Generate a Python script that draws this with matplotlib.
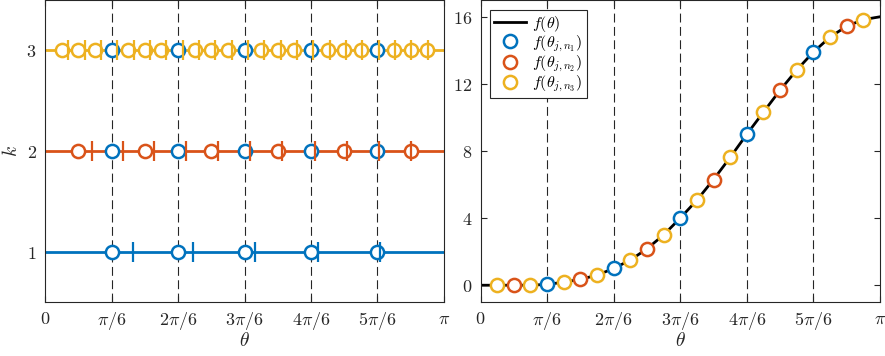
import numpy as np
import matplotlib
matplotlib.use('Agg')
import matplotlib.pyplot as plt

plt.rcParams['mathtext.fontset'] = 'cm'
plt.rcParams['font.family'] = 'serif'
plt.rcParams['font.serif'] = ['DejaVu Serif']

# colours (matlab default order)
c1, c2, c3 = '#0072BD', '#D95319', '#EDB120'
axcol = '#262626'

# nodes, in units of pi/6
th_n1 = [1, 2, 3, 4, 5]
th_n2 = [0.5, 1.5, 2.5, 3.5, 4.5, 5.5]
th_n3 = [0.25, 0.75, 1.25, 1.75, 2.25, 2.75, 3.25, 3.75, 4.25, 4.75, 5.25, 5.75]

# f at the nodes
f_n1 = [0.05, 1.0, 4.0, 9.0, 13.9]
f_n2 = [0.0, 0.35, 2.17, 6.3, 11.63, 15.44]
f_n3 = [0.0, 0.0, 0.18, 0.6, 1.5, 3.0, 5.07, 7.62, 10.32, 12.83, 14.79, 15.83]

# f(theta) curve
th_line = [0, 0.25, 0.5, 0.75, 1, 1.25, 1.5, 1.75, 2, 2.25, 2.5, 2.75, 3,
           3.25, 3.5, 3.75, 4, 4.25, 4.5, 4.75, 5, 5.25, 5.5, 5.75, 6]
f_line = [0, 0, 0, 0, 0.05, 0.18, 0.35, 0.6, 1.0, 1.5, 2.17, 3.0, 4.0,
          5.07, 6.3, 7.62, 9.0, 10.32, 11.63, 12.83, 13.9, 14.79, 15.44, 15.83, 16.0]

# interval markers ("|") per level k
bars_k1 = [1.32, 2.23, 3.16, 4.10, 5.04]
bars_k2 = [0.707, 1.17, 1.64, 2.12, 2.60, 3.09, 3.57, 4.06, 4.54, 5.03, 5.51]
bars_k3 = [0.350, 0.596, 0.841, 1.087, 1.333, 1.578, 1.824, 2.070, 2.316, 2.561,
           2.807, 3.053, 3.298, 3.544, 3.790, 4.035, 4.281, 4.527, 4.773, 5.018,
           5.264, 5.510, 5.755]

xticks = [0, 1, 2, 3, 4, 5, 6]
xticklabels = [r'$0$', r'$\pi/6$', r'$2\pi/6$', r'$3\pi/6$', r'$4\pi/6$', r'$5\pi/6$', r'$\pi$']

s = np.pi / 6
fs = 13
lw = 2
ms = 9.5
mew = 1.8

fig = plt.figure(figsize=(8.85, 3.56), dpi=100)
ax1 = fig.add_axes([45/885, 1-302/356, 399/885, 302/356])
ax2 = fig.add_axes([480.5/885, 1-302/356, 399.5/885, 302/356])


def style(ax):
    for sp in ax.spines.values():
        sp.set_color(axcol)
        sp.set_linewidth(0.8)
    ax.tick_params(direction='in', length=4, width=0.8, color=axcol, top=True, right=True,
                   labelsize=fs, labelcolor=axcol, pad=6)
    ax.set_xlim(0, np.pi)
    ax.set_xticks(np.array(xticks)*s)
    ax.set_xticklabels(xticklabels)
    ax.set_xlabel(r'$\theta$', fontsize=fs+1, color=axcol, labelpad=0)
    for t in th_n1:
        ax.axvline(t*s, color=axcol, lw=0.8, ls=(0, (8, 4)), zorder=1)


# left: nodes per level
style(ax1)
levels = [(1, c1, [], bars_k1), (2, c2, th_n2, bars_k2), (3, c3, sorted(th_n2 + th_n3), bars_k3)]
for k, c, th_new, bars in levels:
    ax1.plot([0, np.pi], [k, k], color=c, lw=lw, zorder=2)
    if th_new:
        ax1.plot(np.array(th_new)*s, [k]*len(th_new), 'o', color=c, mfc='white', ms=ms, mew=mew, zorder=3)
    ax1.plot(np.array(th_n1)*s, [k]*len(th_n1), 'o', color=c1, mfc='white', ms=ms, mew=mew, zorder=3)
    ax1.plot(np.array(bars)*s, [k]*len(bars), '|', color=c, ms=14, mew=1.6, zorder=4)
ax1.set_ylim(0.5, 3.5)
ax1.set_yticks([1, 2, 3])
ax1.set_yticklabels([r'$1$', r'$2$', r'$3$'])
ax1.set_ylabel(r'$k$', fontsize=fs+1, color=axcol, labelpad=4)

# right: f(theta) with nodes
style(ax2)
ax2.plot(np.array(th_line)*s, f_line, color='k', lw=lw, zorder=2, label=r'$f(\theta)$')
ax2.plot(np.array(th_n1)*s, f_n1, 'o', color=c1, mfc='white', ms=ms, mew=mew, zorder=3,
         label=r'$f(\theta_{j,n_1})$')
ax2.plot(np.array(th_n2)*s, f_n2, 'o', color=c2, mfc='white', ms=ms, mew=mew, zorder=3,
         label=r'$f(\theta_{j,n_2})$')
ax2.plot(np.array(th_n3)*s, f_n3, 'o', color=c3, mfc='white', ms=ms, mew=mew, zorder=3,
         label=r'$f(\theta_{j,n_3})$')
ax2.set_ylim(-1, 17)
ax2.set_yticks([0, 4, 8, 12, 16])
ax2.set_yticklabels([r'$0$', r'$4$', r'$8$', r'$12$', r'$16$'])

leg = ax2.legend(loc='upper left', fontsize=11.5, fancybox=False, framealpha=1,
                 edgecolor=axcol, borderaxespad=0.6, handlelength=2.0, handletextpad=0.4,
                 labelspacing=0.0, borderpad=0.25)
leg.get_frame().set_linewidth(0.8)

fig.savefig('out.png', dpi=100)
